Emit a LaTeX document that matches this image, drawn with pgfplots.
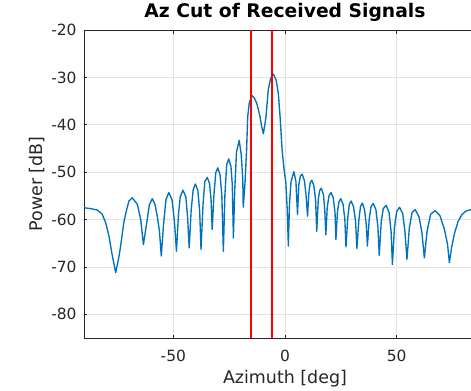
\documentclass[border=0pt]{standalone}
\usepackage{pgfplots}
\pgfplotsset{compat=1.18}
\usepackage{fontspec}
\setmainfont{DejaVu Sans}
\definecolor{mblue}{HTML}{0072BD}
\definecolor{axgray}{HTML}{262626}
\definecolor{gridgray}{HTML}{E3E3E3}
\begin{document}
\begin{tikzpicture}
\begin{axis}[
  at={(0,0)}, anchor=south west,
  scale only axis, width=402bp, height=308bp,
  xmin=-90, xmax=90, ymin=-85, ymax=-20,
  xtick={-50,0,50}, ytick={-80,-70,-60,-50,-40,-30,-20},
  grid=major, major grid style={color=gridgray, line width=0.6bp},
  axis line style={color=axgray, line width=0.7bp},
  tick style={color=axgray, line width=0.6bp},
  tick align=inside, major tick length=3.5bp,
  /pgf/number format/assume math mode=true,
  ticklabel style={font=\fontsize{15.5}{18}\selectfont, text=axgray, inner sep=0pt},
  xticklabel style={anchor=base, yshift=-23.7bp},
  yticklabel style={anchor=east, xshift=-7.3bp},
  title={Az Cut of Received Signals},
  title style={at={(axis description cs:0.5,1.0218)}, anchor=base, inner sep=0pt, font=\fontsize{18.8}{22}\selectfont\bfseries, text=black},
  xlabel={Azimuth [deg]},
  xlabel style={at={(axis description cs:0.5,-0.1477)}, anchor=base, inner sep=0pt, font=\fontsize{17.5}{21}\selectfont, text=axgray},
  ylabel={Power [dB]},
  ylabel style={at={(axis description cs:-0.102,0.5)}, anchor=base, inner sep=0pt, font=\fontsize{17.5}{21}\selectfont, text=axgray},
]
\addplot[color=mblue, line width=1.35bp, line join=round, mark=none] coordinates {
(-90.0,-57.5) (-87.0,-57.7) (-84.0,-58.0) (-81.8,-58.9) (-80.3,-60.7) (-78.8,-63.5) (-77.3,-67.7) (-75.8,-71.2)
(-74.3,-67.7) (-73.6,-65.6) (-72.8,-62.8) (-72.1,-60.4) (-71.1,-58.3) (-69.9,-56.1) (-68.4,-55.4)
(-66.1,-56.8) (-64.6,-60.0) (-63.4,-65.3) (-61.7,-60.0) (-60.7,-56.8) (-59.4,-55.6)
(-58.2,-56.8) (-57.2,-59.3) (-56.2,-62.5) (-55.4,-67.7) (-54.4,-61.1) (-53.3,-55.8) (-52.0,-54.3)
(-50.6,-55.8) (-49.5,-60.4) (-48.6,-66.7) (-47.7,-58.9) (-46.9,-55.2) (-45.7,-53.8)
(-44.4,-55.2) (-43.6,-59.6) (-42.9,-66.0) (-42.0,-57.9) (-41.1,-53.7) (-40.1,-52.5)
(-39.0,-53.9) (-38.2,-58.3) (-37.6,-66.3) (-36.7,-56.8) (-35.9,-52.0) (-34.8,-51.1)
(-33.8,-52.4) (-33.1,-55.8) (-32.6,-62.1) (-31.8,-54.7) (-31.0,-50.1) (-30.1,-49.1)
(-29.1,-50.5) (-28.3,-54.7) (-27.6,-66.7) (-26.9,-54.7) (-26.1,-48.4) (-25.2,-47.2)
(-24.2,-48.8) (-23.6,-52.6) (-23.1,-63.9) (-22.5,-53.7) (-21.7,-45.7) (-20.5,-43.3)
(-19.6,-46.3) (-18.9,-51.6) (-18.7,-57.4) (-17.9,-52.3) (-17.2,-45.3) (-16.7,-38.3) (-16.0,-35.4) (-14.9,-33.8)
(-13.8,-34.3) (-12.7,-35.4) (-11.9,-36.8) (-11.2,-38.3) (-10.5,-40.2) (-9.7,-41.9)
(-9.1,-40.2) (-8.5,-38.3) (-7.5,-32.6) (-6.4,-30.2) (-5.2,-29.3)
(-4.0,-30.5) (-3.0,-33.3) (-2.2,-38.3) (-1.3,-45.3) (-0.4,-49.5) (0.4,-52.3) (1.0,-57.9) (1.5,-65.6)
(2.0,-56.8) (2.7,-52.0) (4.0,-49.9) (4.9,-52.0) (5.6,-58.9) (6.2,-52.6) (6.9,-50.8) (7.7,-50.4)
(8.7,-51.8) (9.4,-54.7) (10.1,-59.3) (10.7,-54.3) (11.3,-52.2) (12.0,-51.7)
(12.9,-52.8) (13.7,-55.8) (14.2,-62.5) (14.9,-55.8) (15.5,-53.9) (16.2,-53.4)
(17.2,-54.7) (17.8,-57.9) (18.3,-63.2) (18.9,-57.5) (19.7,-55.0) (20.6,-54.3)
(21.6,-55.4) (22.4,-58.5) (22.8,-64.2) (23.5,-58.3) (24.2,-56.2) (25.0,-55.6)
(26.0,-56.8) (26.8,-60.0) (27.3,-65.8) (28.1,-59.6) (28.8,-56.8) (29.6,-56.1)
(30.7,-57.3) (31.6,-60.4) (32.2,-66.1) (33.1,-60.0) (33.8,-57.3) (34.6,-56.5)
(35.6,-57.9) (36.4,-61.1) (36.9,-65.6) (37.7,-60.0) (38.5,-57.3) (39.5,-56.6)
(40.7,-57.9) (41.6,-61.5) (42.2,-67.6) (43.1,-60.4) (44.0,-57.7) (45.3,-57.0)
(46.6,-58.5) (47.5,-62.5) (48.1,-69.5) (49.0,-61.7) (50.0,-58.3) (51.3,-57.4)
(52.7,-58.7) (53.7,-62.5) (54.6,-68.4) (55.7,-61.7) (56.9,-58.5) (58.3,-57.9)
(60.0,-59.4) (61.3,-62.7) (62.4,-68.1) (63.6,-62.5) (65.2,-58.9) (67.2,-58.1)
(69.4,-59.2) (71.4,-62.1) (72.8,-65.3) (73.6,-69.1) (74.6,-65.9) (75.9,-62.9)
(77.5,-60.4) (79.3,-58.9) (81.1,-58.2) (83.3,-57.9) (85.5,-57.8) (88.0,-57.9) (90.0,-58.1)
};
\addplot[color=red, line width=1.3bp, mark=none] coordinates {(-15.2,-85) (-15.2,-20)};
\addplot[color=red, line width=2.0bp, mark=none] coordinates {(-5.7,-85) (-5.7,-20)};
\end{axis}
\pgfresetboundingbox
\useasboundingbox (-84bp,-53bp) rectangle (387bp,338bp);
\end{tikzpicture}
\end{document}
